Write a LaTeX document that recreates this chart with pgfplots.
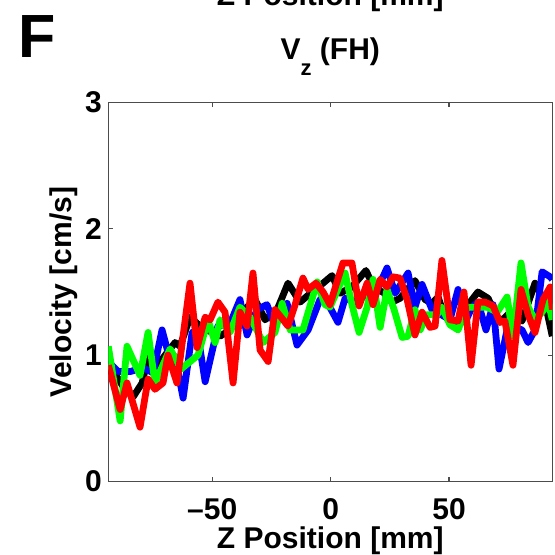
\documentclass[border=0pt]{standalone}
\usepackage{pgfplots}
\pgfplotsset{compat=1.18}
\usepackage{fontspec}
\setmainfont{Liberation Sans}
\newcommand{\lf}{\bfseries\fontsize{15}{18}\selectfont}
\begin{document}
\begin{tikzpicture}
\path[use as bounding box, clip] (0,0) rectangle (277.5pt,277.5pt);
\node[anchor=base, inner sep=0pt] at (165.15pt,274.5pt) {\lf Z Position [mm]};
\node[anchor=base west, inner sep=0pt] at (9.25pt,248.5pt) {\bfseries\fontsize{30.5}{32}\selectfont F};
\begin{axis}[
  at={(54.15pt,36.75pt)}, anchor=south west,
  scale only axis, width=222pt, height=189.5pt,
  xmin=-93.9, xmax=93.6, ymin=0, ymax=3,
  xtick={-50,0,50}, xticklabels={\textendash50,0,50},
  ytick={0,1,2,3}, yticklabels={0,1,2,3},
  tick align=inside, major tick length=2.2pt,
  axis line style={black!70, line width=0.6pt},
  every tick/.style={black!70, line width=0.6pt},
  xticklabel style={font=\lf, inner sep=0pt, anchor=north, yshift=-8.25pt},
  yticklabel style={font=\lf, inner sep=0pt, anchor=east, xshift=-3pt},
  xlabel={Z Position [mm]}, ylabel={Velocity [cm/s]},
  xlabel style={font=\lf, inner sep=0pt, at={(axis description cs:0.5,-0.1755)}, anchor=base},
  ylabel style={font=\lf, inner sep=0pt, at={(axis description cs:-0.0818,0.5)}, anchor=base},
  title={V\raisebox{-0.55em}{\fontsize{11}{12}\selectfont z} (FH)},
  title style={font=\lf, inner sep=0pt, at={(axis description cs:0.5,1.0831)}, anchor=base},
  every axis plot/.append style={line width=3.4pt, line join=round, no markers},
]
\addplot[black] coordinates {(-93.9,0.88) (-91,0.85) (-87.6,0.75) (-83.4,0.67) (-79.6,0.78) (-77.1,0.99) (-74.2,0.89) (-69.9,1.00) (-65.7,1.10) (-63.6,1.07) (-59.4,1.30) (-55.1,1.23) (-50.1,1.18) (-46.7,1.15) (-42.5,1.20) (-39.5,1.28) (-35.3,1.38) (-31.9,1.44) (-27.7,1.28) (-22.6,1.36) (-18.0,1.57) (-12.9,1.42) (-7.9,1.50) (-3.2,1.57) (0.6,1.63) (4.0,1.49) (9.0,1.54) (14.9,1.67) (18.7,1.52) (22.1,1.50) (25.9,1.42) (29.3,1.45) (35.6,1.59) (39.9,1.44) (42.8,1.41) (45.4,1.46) (47.0,1.37) (49.6,1.28) (52.5,1.23) (56.8,1.37) (62.2,1.50) (66.5,1.45) (71.5,1.26) (75.8,1.34) (80.8,1.27) (86.3,1.57) (90.5,1.42) (93.6,1.15)};
\addplot[blue] coordinates {(-93.9,0.95) (-89.8,0.87) (-84.7,0.87) (-79.2,0.90) (-75.0,0.86) (-71.2,1.20) (-67.8,0.96) (-65.7,0.99) (-62.3,0.66) (-58.5,1.18) (-56.4,1.20) (-53.0,0.79) (-47.6,1.23) (-42.5,1.25) (-38.3,1.44) (-35.3,1.16) (-31.1,1.36) (-26.9,1.40) (-23.5,1.23) (-18.4,1.41) (-14.2,1.08) (-9.5,1.20) (-4.5,1.44) (-1.5,1.42) (3.1,1.26) (6.1,1.45) (11.1,1.42) (15.4,1.49) (18.7,1.48) (23.8,1.69) (27.2,1.49) (32.7,1.65) (35.6,1.38) (38.6,1.56) (42.8,1.36) (44.9,1.34) (50.4,1.28) (53.8,1.52) (56.8,1.26) (59.7,1.38) (62.2,1.42) (65.6,1.20) (68.6,1.40) (71.1,0.89) (74.5,1.20) (77.9,1.22) (80.8,1.20) (83.4,1.10) (86.3,1.20) (89.3,1.66) (92.7,1.62) (93.6,1.60)};
\addplot[green] coordinates {(-93.9,1.07) (-88.9,0.48) (-86.0,1.07) (-80.5,0.84) (-77.1,1.18) (-74.2,0.78) (-67.8,1.05) (-63.2,0.89) (-56.0,1.00) (-51.8,1.28) (-48.8,1.10) (-46.7,1.28) (-42.5,1.18) (-38.3,1.38) (-34.0,1.30) (-28.5,1.10) (-23.5,1.18) (-20.5,1.41) (-17.1,1.20) (-11.7,1.20) (-5.7,1.58) (-2.4,1.40) (-0.3,1.38) (6.1,1.65) (9.0,1.40) (12.0,1.18) (15.4,1.38) (17.9,1.60) (20.9,1.22) (23.8,1.52) (26.8,1.36) (30.2,1.14) (32.7,1.15) (35.6,1.36) (37.8,1.20) (40.7,1.32) (44.9,1.32) (47.0,1.38) (50.4,1.24) (53.8,1.20) (57.6,1.38) (62.2,1.38) (66.0,1.38) (70.3,1.34) (74.5,1.46) (77.0,1.15) (80.4,1.73) (83.4,1.38) (86.3,1.28) (89.3,1.34) (91.9,1.42) (93.6,1.28)};
\addplot[red] coordinates {(-93.9,0.92) (-88.9,0.57) (-86.0,0.78) (-80.5,0.43) (-77.1,0.81) (-74.2,0.73) (-70.8,0.78) (-68.7,1.00) (-64.9,0.78) (-59.4,1.57) (-56.4,1.06) (-53.0,1.30) (-50.9,1.28) (-47.6,1.42) (-44.6,1.34) (-41.2,0.78) (-38.3,1.34) (-35.3,1.23) (-32.8,1.65) (-29.8,1.04) (-26.4,0.95) (-23.5,1.36) (-20.9,1.30) (-18.0,1.23) (-15.0,1.40) (-11.7,1.61) (-9.5,1.52) (-6.2,1.57) (-3.2,1.50) (-0.3,1.40) (5.2,1.73) (9.0,1.73) (12.0,1.39) (15.4,1.57) (17.9,1.40) (20.9,1.60) (23.8,1.54) (26.4,1.62) (29.3,1.61) (32.3,1.44) (35.6,1.16) (38.6,1.34) (42.0,1.22) (44.1,1.23) (47.0,1.75) (50.4,1.28) (53.8,1.27) (56.3,1.50) (59.3,0.92) (62.2,1.42) (65.2,1.42) (68.6,1.39) (71.5,1.26) (73.6,1.27) (77.0,0.92) (80.4,1.52) (83.4,1.32) (86.3,1.18) (89.7,1.44) (92.7,1.54) (93.6,1.36)};
\end{axis}
\end{tikzpicture}
\end{document}
